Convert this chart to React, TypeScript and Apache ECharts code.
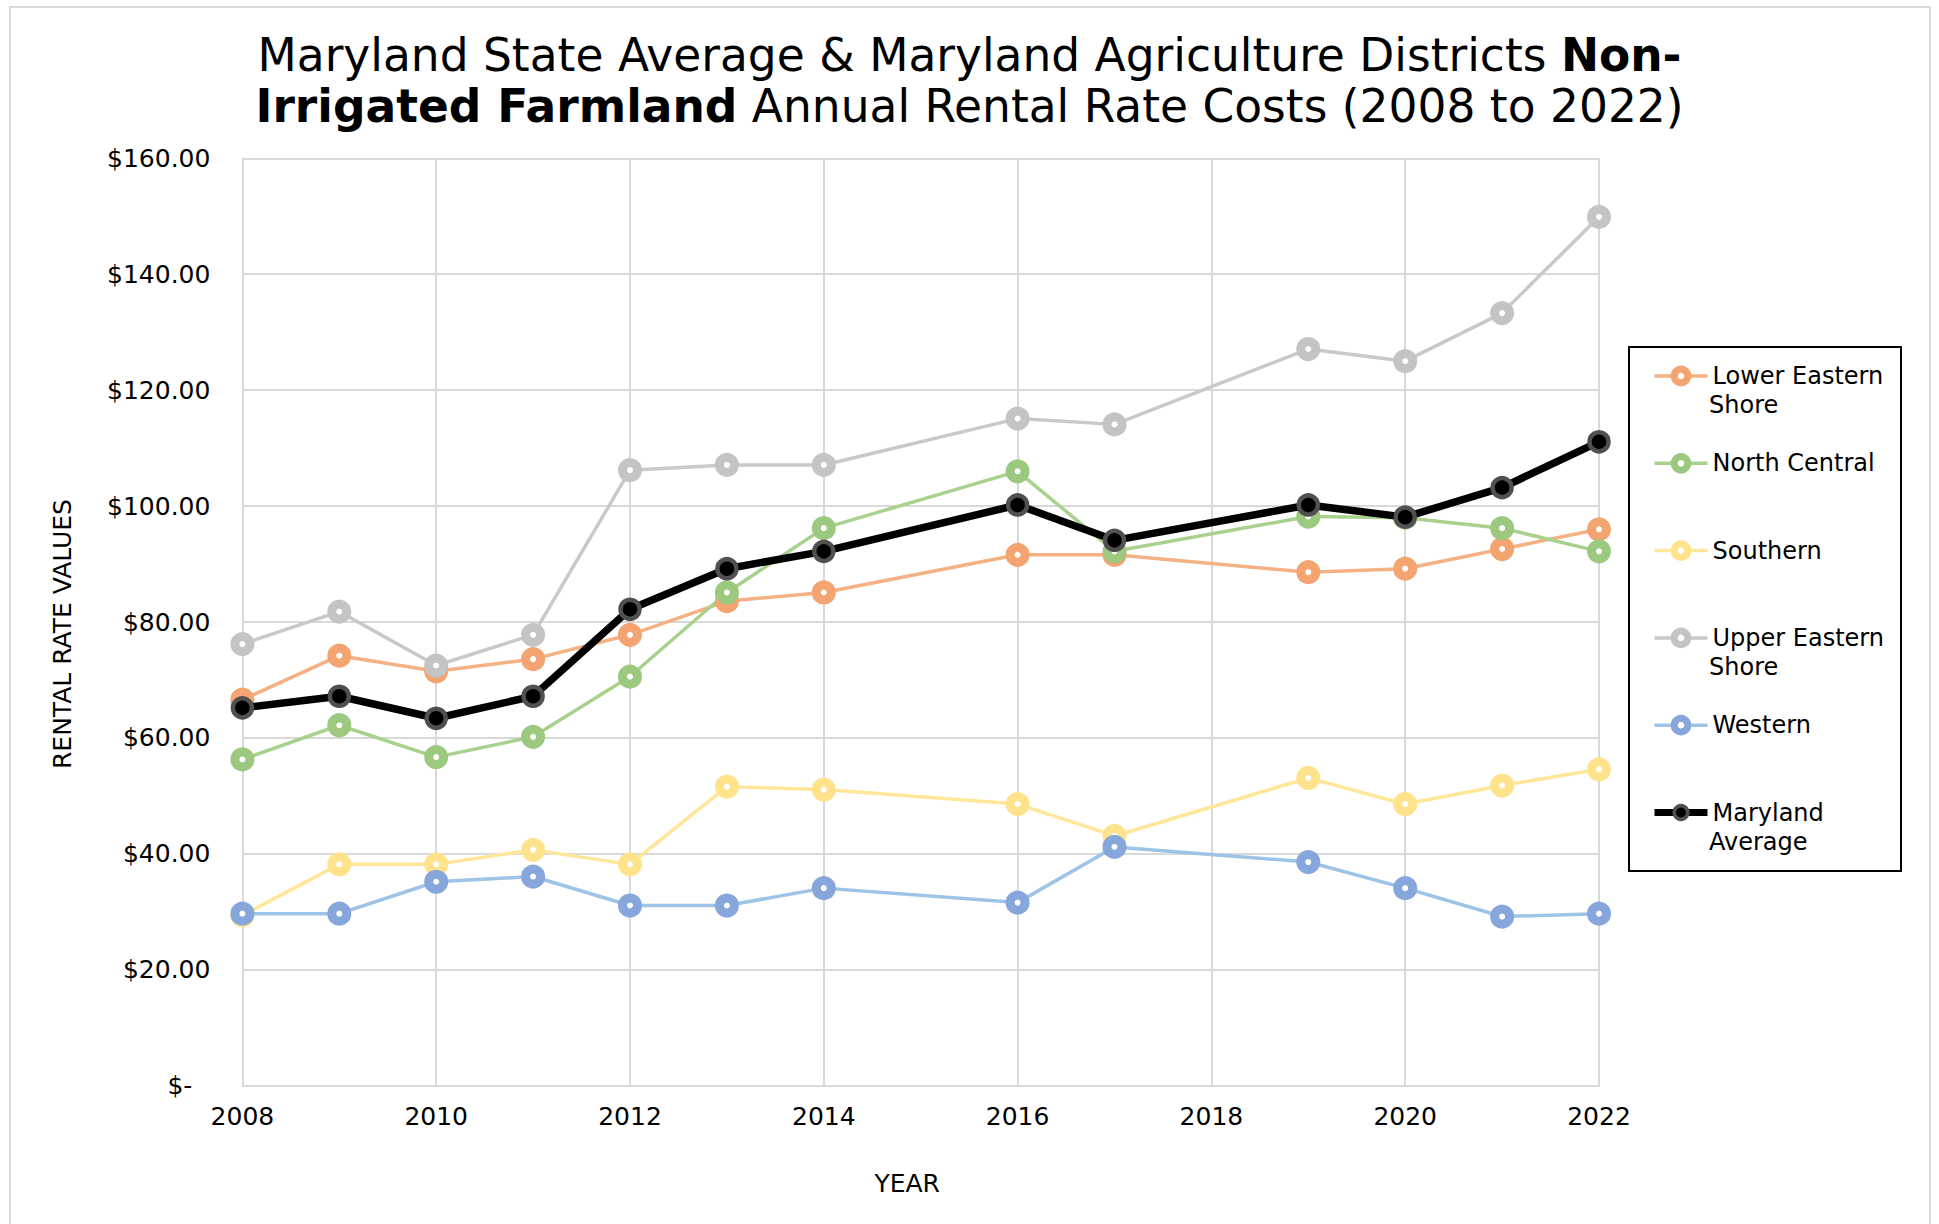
import React, { useEffect, useRef } from "react";
import * as echarts from "echarts";

const FONT = "DejaVu Sans";

const YEARS = [2008, 2009, 2010, 2011, 2012, 2013, 2014, 2016, 2017, 2019, 2020, 2021, 2022];

const LOWER_EASTERN = [66.6, 74.2, 71.5, 73.6, 77.8, 83.6, 85.1, 91.6, 91.6, 88.6, 89.2, 92.6, 96.0];
const NORTH_CENTRAL = [56.3, 62.2, 56.7, 60.2, 70.6, 85.1, 96.2, 106.0, 92.2, 98.2, 98.0, 96.2, 92.2];
const SOUTHERN = [29.4, 38.2, 38.2, 40.7, 38.2, 51.6, 51.1, 48.6, 43.1, 53.1, 48.6, 51.8, 54.6];
const UPPER_EASTERN = [76.2, 81.8, 72.5, 77.8, 106.2, 107.1, 107.1, 115.1, 114.1, 127.1, 125.0, 133.3, 149.9];
const WESTERN = [29.7, 29.7, 35.2, 36.1, 31.1, 31.1, 34.1, 31.6, 41.2, 38.6, 34.1, 29.2, 29.7];
const MD_AVERAGE = [65.2, 67.2, 63.4, 67.2, 82.2, 89.2, 92.2, 100.2, 94.1, 100.2, 98.1, 103.2, 111.1];

const SERIES_NAMES = [
  "Lower Eastern Shore",
  "North Central",
  "Southern",
  "Upper Eastern Shore",
  "Western",
  "Maryland Average",
];
// legend label: first line shown by the legend, second line (if any) continued below it
const LEGEND_FIRST = ["Lower Eastern", "North Central", "Southern", "Upper Eastern", "Western", "Maryland"];
const LEGEND_SECOND = ["Shore", "", "", "Shore", "", "Average"];

const Y_MIN = 0;
const Y_MAX = 160;
const Y_STEP = 20;
const X_MIN = 2008;
const X_MAX = 2022;
const X_STEP = 2;

const TITLE_LINE1 = "Maryland State Average & Maryland Agriculture Districts ";
const TITLE_BOLD1 = "Non-";
const TITLE_BOLD2 = "Irrigated Farmland";
const TITLE_LINE2 = " Annual Rental Rate Costs (2008 to 2022)";

// legend geometry
const LEG_LEFT = 1629;
const LEG_TOP = 347;
const LEG_PAD_TOP = 14.5;
const LEG_PAD_LEFT = 22;
const LEG_ITEM_W = 53;
const LEG_ROW_H = 29;
const LEG_GAP = 58.3;

const colored = (name: string, vals: number[], lineColor: string, ringColor: string) => ({
  name,
  type: "line",
  data: YEARS.map((y, i) => [y, vals[i]]),
  symbol: "circle",
  symbolSize: 15,
  lineStyle: { color: lineColor, width: 3.5 },
  itemStyle: { color: "#ffffff", borderColor: ringColor, borderWidth: 9 },
  emphasis: { disabled: true },
  z: 2,
});

export default function App() {
  const ref = useRef<HTMLDivElement>(null);

  useEffect(() => {
    document.body.style.margin = "0";
    const chart = echarts.init(ref.current as HTMLDivElement, null, { renderer: "svg" });

    const series: any[] = [
      colored(SERIES_NAMES[0], LOWER_EASTERN, "#F4B183", "#F3A470"),
      colored(SERIES_NAMES[1], NORTH_CENTRAL, "#A9D18E", "#9CC97F"),
      colored(SERIES_NAMES[2], SOUTHERN, "#FFE699", "#FFE38C"),
      colored(SERIES_NAMES[3], UPPER_EASTERN, "#C9C9C9", "#C4C4C4"),
      colored(SERIES_NAMES[4], WESTERN, "#9DC3E6", "#86A6DC"),
      {
        name: SERIES_NAMES[5],
        type: "line",
        data: YEARS.map((y, i) => [y, MD_AVERAGE[i]]),
        symbol: "circle",
        symbolSize: 19,
        lineStyle: { color: "#000000", width: 7.5 },
        itemStyle: { color: "#000000", borderColor: "#505050", borderWidth: 4.5 },
        emphasis: { disabled: true },
        z: 3,
      },
    ];

    const firstMap: Record<string, string> = {};
    SERIES_NAMES.forEach((n, i) => (firstMap[n] = LEGEND_FIRST[i]));

    const textX = LEG_LEFT + LEG_PAD_LEFT + LEG_ITEM_W + 5;
    const secondLines: any[] = [];
    LEGEND_SECOND.forEach((t, i) => {
      if (!t) return;
      const iconY = LEG_TOP + LEG_PAD_TOP + LEG_ROW_H / 2 + i * (LEG_ROW_H + LEG_GAP);
      secondLines.push({
        type: "text",
        silent: true,
        x: textX,
        y: iconY + LEG_ROW_H,
        style: {
          text: t,
          fontFamily: FONT,
          fontSize: 24,
          fill: "#000000",
          align: "left",
          verticalAlign: "middle",
        },
        z: 100,
      });
    });

    const option: any = {
      animation: false,
      backgroundColor: "#ffffff",
      textStyle: { fontFamily: FONT },
      title: {
        text: `${TITLE_LINE1}{b|${TITLE_BOLD1}}\n{b|${TITLE_BOLD2}}${TITLE_LINE2}`,
        left: "center",
        top: 30,
        padding: 0,
        textStyle: {
          fontFamily: FONT,
          fontSize: 45.5,
          fontWeight: "normal",
          color: "#000000",
          lineHeight: 51,
          rich: {
            b: { fontFamily: FONT, fontSize: 45.5, fontWeight: "bold", color: "#000000", lineHeight: 51 },
          },
        },
      },
      graphic: [
        {
          type: "rect",
          silent: true,
          z: -10,
          shape: { x: 10, y: 7, width: 1920, height: 1260 },
          style: { fill: "none", stroke: "#D9D9D9", lineWidth: 2 },
        },
        ...secondLines,
      ],
      legend: {
        orient: "vertical",
        left: LEG_LEFT,
        top: LEG_TOP,
        padding: [LEG_PAD_TOP, 17, 44, LEG_PAD_LEFT],
        itemWidth: LEG_ITEM_W,
        itemHeight: 17,
        itemGap: LEG_GAP,
        borderColor: "#000000",
        borderWidth: 2,
        selectedMode: false,
        itemStyle: { borderWidth: 7 },
        lineStyle: { width: 3.5 },
        formatter: (n: string) => firstMap[n] || n,
        textStyle: { fontFamily: FONT, fontSize: 24, color: "#000000", lineHeight: LEG_ROW_H },
        data: SERIES_NAMES.map((n, i) =>
          i === 5
            ? { name: n, itemStyle: { borderWidth: 3.5 }, lineStyle: { width: 7 } }
            : { name: n }
        ),
      },
      grid: { left: 242.4, right: 340, top: 158.3, bottom: 138.2, containLabel: false },
      xAxis: {
        type: "value",
        min: X_MIN,
        max: X_MAX,
        interval: X_STEP,
        name: "YEAR",
        nameLocation: "middle",
        nameGap: 85,
        nameTextStyle: { fontFamily: FONT, fontSize: 25, color: "#000000", padding: [0, 27, 0, 0] },
        axisLine: { show: true, lineStyle: { color: "#D9D9D9", width: 2 } },
        axisTick: { show: false },
        axisLabel: {
          margin: 18,
          fontFamily: FONT,
          fontSize: 25,
          color: "#000000",
          formatter: (v: number) => String(v),
        },
        splitLine: { show: true, lineStyle: { color: "#D9D9D9", width: 2 } },
      },
      yAxis: {
        type: "value",
        min: Y_MIN,
        max: Y_MAX,
        interval: Y_STEP,
        name: "RENTAL RATE VALUES",
        nameLocation: "middle",
        nameGap: 167,
        nameTextStyle: { fontFamily: FONT, fontSize: 25, color: "#000000", padding: [0, 24, 0, 0] },
        axisLine: { show: true, lineStyle: { color: "#D9D9D9", width: 2 } },
        axisTick: { show: false },
        axisLabel: {
          margin: 32,
          fontFamily: FONT,
          fontSize: 25,
          color: "#000000",
          formatter: (v: number) => (v === 0 ? "{z|$-}" : "$" + v.toFixed(2)),
          rich: {
            z: { fontFamily: FONT, fontSize: 25, color: "#000000", padding: [0, 18, 0, 0] },
          },
        },
        splitLine: { show: true, lineStyle: { color: "#D9D9D9", width: 2 } },
      },
      series,
    };

    chart.setOption(option);
    return () => chart.dispose();
  }, []);

  return <div ref={ref} style={{ width: 1939, height: 1224 }} />;
}
